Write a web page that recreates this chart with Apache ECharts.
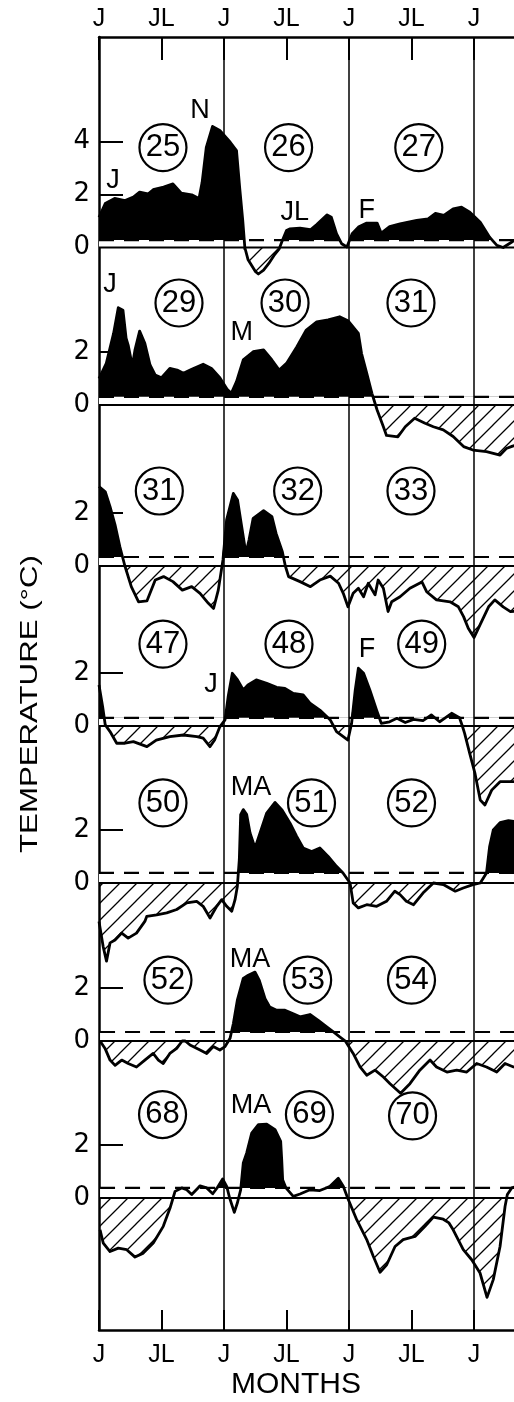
<!DOCTYPE html>
<html><head><meta charset="utf-8">
<script src="https://cdn.jsdelivr.net/npm/echarts@6/dist/echarts.min.js"></script>
<style>html,body{margin:0;padding:0;background:#fff}#c{width:514px;height:1402px}</style>
</head><body><div id="c"></div>
<script>
// ---------------- DATA (months from first January, °C anomaly) ----------------
const yearStarts = [12, 24, 36];
const yTickLabels = [[0, 2, 4], [0, 2], [0, 2], [0, 2], [0, 2], [0, 2], [0, 2]];
const thresholds = [0.28, 0.31, 0.34, 0.31, 0.38, 0.34, 0.38];

const p25 = [[0,1.14],[0.6,1.66],[1.5,1.85],[2.5,1.77],[3.3,1.9],[3.9,2.09],[4.7,2.02],[5.2,2.18],[6.2,2.28],[7.1,2.4],[7.9,2.05],[8.9,1.99],[9.6,1.85],[9.9,2.46],[10.3,3.78],[10.9,4.57],[11.6,4.42],[12.6,3.97],[13.2,3.66],[13.5,2.28],[13.8,1.02],[14.0,0],[14.3,-0.45],[15.0,-0.9],[15.3,-1.0],[15.8,-0.85],[16.3,-0.6],[16.8,-0.3],[17.3,-0.05],[17.6,0.26],[18.0,0.64],[18.3,0.7],[19.3,0.73],[20.3,0.67],[20.9,0.87],[21.9,1.23],[22.3,1.14],[22.8,0.52],[23.3,0.14],[23.8,0.02],[24.3,0.52],[24.9,0.77],[25.7,0.92],[26.7,0.92],[27.1,0.54],[27.9,0.79],[28.9,0.89],[30.5,1.02],[31.6,1.08],[32.3,1.29],[33.1,1.21],[34.0,1.46],[34.8,1.52],[35.6,1.33],[36.6,0.95],[37.5,0.39],[38.2,0.08],[38.8,0.0],[39.6,0.2],[40.2,0.35]];

const p29 = [[0,1.0],[0.7,1.57],[1.4,2.7],[1.85,3.67],[2.3,3.58],[2.6,2.52],[2.8,2.26],[3.2,1.47],[3.45,2.07],[3.9,2.79],[4.4,2.33],[4.9,1.51],[5.4,1.13],[6.0,1.03],[6.8,1.38],[7.5,1.32],[8.1,1.2],[8.9,1.35],[10.0,1.54],[10.8,1.38],[11.6,1.03],[12.3,0.59],[12.7,0.44],[13.2,0.88],[13.85,1.7],[14.8,2.01],[15.8,2.08],[16.6,1.7],[17.3,1.32],[18.0,1.57],[19.0,2.2],[19.9,2.83],[20.9,3.14],[22.0,3.21],[23.1,3.33],[23.9,3.18],[24.9,2.7],[25.2,1.95],[25.7,1.2],[26.2,0.44],[26.7,-0.19],[27.3,-0.82],[27.6,-1.15],[28.7,-1.2],[29.4,-0.82],[30.3,-0.5],[31.3,-0.69],[32.1,-0.82],[33.05,-0.94],[34.0,-1.19],[35.0,-1.57],[35.9,-1.7],[37.2,-1.76],[38.5,-1.89],[39.1,-1.64],[39.7,-1.55],[40.2,-1.5]];

const p31 = [[0,3.0],[0.6,2.8],[1.06,2.24],[1.54,1.55],[2.0,0.73],[2.5,-0.02],[3.1,-0.78],[3.8,-1.35],[4.6,-1.32],[5.4,-0.53],[6.2,-0.4],[7.1,-0.59],[8.0,-0.91],[8.9,-0.78],[9.7,-1.03],[10.5,-1.41],[11.0,-1.6],[11.45,-0.91],[11.9,0.23],[12.25,1.74],[12.9,2.74],[13.3,2.49],[13.7,1.48],[14.1,0.48],[14.4,0.98],[14.8,1.8],[15.8,2.09],[16.6,1.86],[17.0,1.23],[17.6,0.54],[17.9,-0.02],[18.2,-0.4],[19.3,-0.59],[20.3,-0.78],[21.2,-0.53],[22.2,-0.38],[23.0,-0.65],[23.45,-1.03],[23.9,-1.54],[24.4,-1.03],[24.9,-0.84],[25.4,-1.16],[25.85,-0.65],[26.5,-1.09],[26.8,-0.53],[27.3,-0.84],[27.75,-1.72],[28.1,-1.35],[28.9,-1.16],[29.85,-0.84],[31.0,-0.6],[31.45,-0.97],[32.4,-1.28],[33.7,-1.35],[34.5,-1.54],[35.0,-1.91],[35.45,-2.35],[36.0,-2.7],[36.6,-2.2],[37.4,-1.54],[38.0,-1.28],[38.8,-1.54],[39.5,-1.72],[40.2,-1.7]];

const p47 = [[0,1.55],[0.35,0.73],[0.6,0.04],[1.06,-0.21],[1.7,-0.65],[2.5,-0.65],[3.3,-0.59],[4.6,-0.78],[5.5,-0.53],[6.8,-0.4],[8.1,-0.34],[9.4,-0.4],[10.0,-0.46],[10.65,-0.78],[11.1,-0.53],[11.6,-0.03],[12.1,0.23],[12.4,1.11],[12.8,1.99],[13.3,1.74],[13.85,1.36],[14.3,1.55],[15.1,1.74],[16.1,1.61],[17.05,1.46],[17.85,1.42],[18.65,1.23],[19.6,1.17],[20.25,0.86],[21.2,0.6],[22.2,0.23],[22.8,-0.21],[23.45,-0.4],[23.9,-0.53],[24.25,0.1],[24.6,1.36],[24.9,2.18],[25.4,1.99],[26.0,1.36],[26.65,0.6],[27.1,0.1],[27.9,0.16],[28.6,0.29],[29.4,0.13],[30.2,0.25],[31.1,0.2],[31.9,0.42],[32.7,0.16],[33.85,0.48],[34.65,0.3],[35.1,-0.28],[35.6,-1.05],[36.1,-1.8],[36.6,-2.79],[37.05,-2.98],[37.7,-2.42],[38.5,-2.1],[39.5,-2.1],[40.2,-2.1]];

const p50 = [[0,-1.45],[0.4,-2.4],[0.72,-2.95],[1.06,-2.26],[1.54,-2.15],[2.18,-1.89],[2.8,-2.08],[3.6,-1.89],[4.4,-1.45],[4.58,-1.26],[5.54,-1.2],[6.5,-1.13],[7.46,-1.0],[8.42,-0.75],[9.38,-0.69],[10.0,-0.88],[10.66,-1.32],[11.3,-0.88],[11.78,-0.63],[12.26,-0.88],[12.74,-1.07],[13.06,-0.63],[13.28,-0.13],[13.47,0.88],[13.6,2.58],[13.85,2.77],[14.18,2.58],[14.5,1.89],[14.98,1.32],[15.46,1.89],[16.1,2.64],[16.9,3.04],[17.54,2.77],[18.34,2.26],[18.98,1.76],[19.6,1.32],[20.42,1.19],[21.2,1.32],[22.0,1.0],[22.8,0.63],[23.6,0.31],[24.1,0.0],[24.4,-0.75],[24.9,-0.94],[25.7,-0.82],[26.66,-0.88],[27.6,-0.69],[28.4,-0.31],[28.9,-0.44],[29.5,-0.69],[30.2,-0.82],[31.1,-0.38],[32.1,0.0],[33.05,-0.06],[34.2,-0.31],[34.97,-0.19],[35.9,-0.06],[36.6,0.0],[37.2,0.38],[37.5,1.38],[37.85,2.0],[38.5,2.28],[39.3,2.35],[40.2,2.3]];

const p52 = [[0.1,0],[0.58,-0.28],[1.06,-0.72],[1.54,-0.92],[2.18,-0.72],[2.8,-0.85],[3.6,-0.98],[4.4,-0.72],[5.2,-0.47],[5.7,-0.72],[6.17,-0.85],[6.8,-0.47],[7.46,-0.28],[8.1,0.06],[8.74,-0.15],[9.7,-0.34],[10.34,-0.47],[10.97,-0.21],[11.6,-0.34],[12.1,-0.21],[12.58,0.1],[12.9,0.66],[13.28,1.54],[13.85,2.36],[14.33,2.48],[14.98,2.6],[15.39,2.29],[15.94,1.6],[16.4,1.28],[17.06,1.16],[17.86,1.16],[18.65,1.03],[19.3,0.91],[20.25,1.0],[21.05,0.78],[21.86,0.53],[22.5,0.34],[23.14,0.15],[23.78,-0.04],[24.4,-0.47],[25.06,-0.98],[25.7,-1.29],[26.5,-1.1],[27.3,-1.36],[27.94,-1.61],[28.95,-1.97],[29.85,-1.61],[30.8,-1.1],[31.78,-0.72],[32.4,-0.98],[33.4,-1.17],[34.34,-1.1],[35.3,-1.17],[36.26,-0.85],[37.2,-0.98],[38.18,-1.17],[38.98,-0.85],[39.8,-0.98],[40.3,-1.0]];

const p68 = [[0.1,-1.2],[0.41,-1.7],[1.06,-2.02],[1.85,-1.89],[2.66,-1.95],[3.46,-2.23],[4.25,-2.08],[5.21,-1.7],[6.17,-1.07],[6.82,-0.38],[7.3,0.25],[7.94,0.38],[8.42,0.31],[8.9,0.13],[9.7,0.46],[10.34,0.38],[10.92,0.16],[11.45,0.44],[11.87,0.72],[12.26,0.44],[12.58,-0.06],[12.99,-0.54],[13.28,-0.19],[13.6,0.31],[13.85,1.32],[14.18,1.7],[14.66,2.45],[15.3,2.77],[16.1,2.79],[16.9,2.58],[17.44,2.14],[17.54,1.45],[17.63,0.69],[18.02,0.31],[18.65,0.06],[19.3,0.15],[20.25,0.31],[21.2,0.28],[22.18,0.44],[22.97,0.75],[23.45,0.44],[23.93,-0.06],[24.74,-0.82],[25.7,-1.57],[26.33,-2.2],[26.98,-2.8],[27.62,-2.52],[28.42,-1.83],[29.2,-1.57],[30.34,-1.45],[31.3,-1.07],[32.1,-0.72],[33.05,-0.8],[33.6,-0.94],[34.0,-1.2],[34.97,-1.95],[35.78,-2.33],[36.58,-2.83],[37.25,-3.75],[37.85,-3.08],[38.5,-1.83],[38.98,-0.32],[39.2,0.13],[39.62,0.38],[40.2,0.45]];

const panelCurves = [p25, p29, p31, p47, p50, p52, p68];

// year numbers in circles: [month, value, text]
const circleLabels = [
  [[6.14,3.77,'25'],[18.2,3.77,'26'],[30.7,3.77,'27']],
  [[7.68,3.85,'29'],[17.86,3.85,'30'],[29.95,3.85,'31']],
  [[5.79,2.83,'31'],[19.07,2.83,'32'],[29.95,2.83,'33']],
  [[6.14,3.09,'47'],[18.24,3.09,'48'],[30.98,3.09,'49']],
  [[6.14,3.02,'50'],[20.4,3.02,'51'],[30.0,3.02,'52']],
  [[6.62,2.3,'52'],[20.03,2.3,'53'],[30.0,2.3,'54']],
  [[6.1,3.15,'68'],[20.2,3.15,'69'],[30.1,3.1,'70']]
];
// month letters: [month, value, text]
const letterLabels = [
  [[1.34,2.53,'J'],[9.7,5.17,'N'],[18.8,1.32,'JL'],[25.7,1.4,'F']],
  [[1.06,4.53,'J'],[13.7,2.72,'M']],
  [],
  [[10.75,1.55,'J'],[25.73,2.9,'F']],
  [[14.6,3.62,'MA']],
  [[14.5,3.09,'MA']],
  [[14.6,3.47,'MA']]
];

// ---------------- LAYOUT ----------------
const LEFT = 99, WIDTH = 500;          // x-axis 0..48 months spans 500px (canvas cuts at 514)
const FRAME_TOP = 37, FRAME_BOTTOM = 1402 - 1330;
const zeroY = [247.5, 405, 566, 726, 883, 1041, 1198];
const PX = 26.5;                       // px per °C
const YMIN = -4, YMAX = 6;

function makeHatch(){
  const n = 17, c = document.createElement('canvas'); c.width = n; c.height = n;
  const g = c.getContext('2d'); g.strokeStyle = '#000'; g.lineWidth = 1.3;
  g.beginPath();
  g.moveTo(-2, n + 2); g.lineTo(n + 2, -2);
  g.moveTo(-2, 2); g.lineTo(2, -2);
  g.moveTo(n - 2, n + 2); g.lineTo(n + 2, n - 2);
  g.stroke();
  return c;
}
const hatch = { image: makeHatch(), repeat: 'repeat' };

function splitAt(data, levels){
  const out = [];
  for (let i = 0; i < data.length; i++){
    const [x1, y1] = data[i];
    if (i > 0){
      const [x0, y0] = data[i-1];
      const cs = [];
      levels.forEach(L => { if ((y0 - L) * (y1 - L) < 0){ const t = (L - y0) / (y1 - y0); cs.push([t, x0 + t * (x1 - x0), L]); } });
      cs.sort((a, b) => a[0] - b[0]).forEach(c => out.push([c[1], c[2]]));
    }
    out.push([x1, y1]);
  }
  return out;
}

const xLabelFmt = v => (v % 12 === 0 ? 'J' : (v % 6 === 0 ? 'JL' : ''));
const lblFont = { fontFamily: 'Liberation Sans', fontSize: 25, color: '#000' };
const gridBase = { left: LEFT, width: WIDTH, containLabel: false, outerBoundsMode: 'none' };

const grids = [Object.assign({ top: FRAME_TOP, bottom: FRAME_BOTTOM }, gridBase)];
const xAxes = [
  { gridIndex: 0, type: 'value', min: 0, max: 48, interval: 6, position: 'top',
    axisLine: { show: true, onZero: false, lineStyle: { color: '#000', width: 2.5 } },
    axisTick: { show: true, inside: true, length: 23, lineStyle: { color: '#000', width: 2 } },
    axisLabel: Object.assign({ formatter: xLabelFmt, margin: 5 }, lblFont),
    splitLine: { show: false } },
  { gridIndex: 0, type: 'value', min: 0, max: 48, interval: 6, position: 'bottom',
    axisLine: { show: true, onZero: false, lineStyle: { color: '#000', width: 2.5 } },
    axisTick: { show: true, inside: true, length: 20, lineStyle: { color: '#000', width: 2 } },
    axisLabel: Object.assign({ formatter: xLabelFmt, margin: 13 }, lblFont),
    splitLine: { show: false } }
];
const yAxes = [
  { gridIndex: 0, type: 'value', min: 0, max: 1, position: 'left',
    axisLine: { show: true, onZero: false, lineStyle: { color: '#000', width: 2.5 } },
    axisTick: { show: false }, axisLabel: { show: false }, splitLine: { show: false } }
];
const series = [
  { type: 'line', xAxisIndex: 0, yAxisIndex: 0, data: [[0, 0]], showSymbol: false, lineStyle: { opacity: 0 }, silent: true,
    markLine: { silent: true, symbol: ['none', 'none'], label: { show: false },
      lineStyle: { color: '#000', width: 1.5, type: 'solid' },
      data: yearStarts.map(m => ({ xAxis: m })) } }
];

panelCurves.forEach((curve, k) => {
  const gi = k + 1;
  grids.push(Object.assign({ top: zeroY[k] - YMAX * PX, height: (YMAX - YMIN) * PX }, gridBase));
  xAxes.push({ gridIndex: gi, type: 'value', min: 0, max: 48, interval: 6,
    axisLine: { show: false }, axisTick: { show: false }, axisLabel: { show: false }, splitLine: { show: false } });
  yAxes.push({ gridIndex: gi, type: 'value', min: YMIN, max: YMAX, interval: 2,
    axisLine: { show: false },
    axisTick: { show: true, inside: true, length: 24, customValues: yTickLabels[k].filter(v => v > 0), lineStyle: { color: '#000', width: 2 } },
    axisLabel: { customValues: yTickLabels[k], fontFamily: 'DejaVu Sans', fontSize: 26, color: '#000', margin: 9 },
    splitLine: { show: false } });
  const thr = thresholds[k];
  const pts = splitAt(curve, [0, thr]);
  const common = { type: 'line', xAxisIndex: gi + 1, yAxisIndex: gi, showSymbol: false, symbol: 'none', silent: true, animation: false, z: 2 };
  // black fill above the threshold (drawn from 0, lower band then blanked)
  series.push(Object.assign({}, common, { data: pts.map(p => [p[0], Math.max(p[1], thr)]),
    lineStyle: { opacity: 0 }, areaStyle: { color: '#000', opacity: 1 } }));
  // blank band between zero and threshold
  series.push(Object.assign({}, common, { data: pts.map(p => [p[0], thr]),
    lineStyle: { opacity: 0 }, areaStyle: { color: '#fff', opacity: 1 } }));
  // hatched deficit below zero
  series.push(Object.assign({}, common, { data: pts.map(p => [p[0], Math.min(p[1], 0)]),
    lineStyle: { opacity: 0 }, areaStyle: { color: hatch, opacity: 1 } }));
  // zero line
  series.push(Object.assign({}, common, { data: pts.map(p => [p[0], 0]),
    lineStyle: { color: '#000', width: 1.8 } }));
  // dashed threshold line
  series.push(Object.assign({}, common, { data: pts.map(p => [p[0], thr]),
    lineStyle: { color: '#000', width: 2.2, type: [15, 10] } }));
  // the curve
  series.push(Object.assign({}, common, { data: pts, z: 3,
    lineStyle: { color: '#000', width: 2.8, join: 'round' } }));
  series.push({ type: 'scatter', xAxisIndex: gi + 1, yAxisIndex: gi, silent: true, z: 4, animation: false,
    symbol: 'circle', symbolSize: 47,
    itemStyle: { color: 'rgba(255,255,255,0)', borderColor: '#000', borderWidth: 2.2, opacity: 1 },
    label: { show: true, position: 'inside', formatter: p => p.data[2], fontFamily: 'Liberation Sans', fontSize: 31, color: '#000', opacity: 1 },
    data: circleLabels[k] });
  if (letterLabels[k].length) series.push({ type: 'scatter', xAxisIndex: gi + 1, yAxisIndex: gi, silent: true, z: 4, animation: false,
    symbol: 'circle', symbolSize: 1, itemStyle: { color: 'rgba(255,255,255,0)' },
    label: { show: true, position: 'inside', formatter: p => p.data[2], fontFamily: 'Liberation Sans', fontSize: 27, color: '#000', opacity: 1 },
    data: letterLabels[k] });
});

const chart = echarts.init(document.getElementById('c'), null, { renderer: 'canvas' });
chart.setOption({
  animation: false,
  backgroundColor: '#fff',
  grid: grids, xAxis: xAxes, yAxis: yAxes, series: series,
  graphic: [
    { type: 'text', x: 30, y: 704, rotation: Math.PI / 2, scaleX: 1.3, silent: true,
      style: { text: 'TEMPERATURE (°C)', fontFamily: 'Liberation Sans', fontSize: 24, fill: '#000', align: 'center', verticalAlign: 'middle' } },
    { type: 'text', x: 296, y: 1385, silent: true,
      style: { text: 'MONTHS', fontFamily: 'Liberation Sans', fontSize: 30, fill: '#000', align: 'center', verticalAlign: 'middle' } }
  ]
});
</script></body></html>
